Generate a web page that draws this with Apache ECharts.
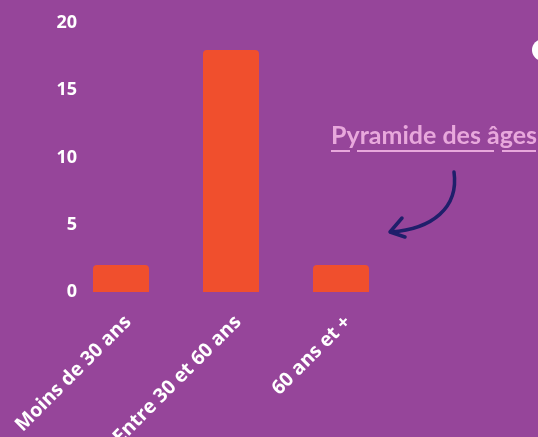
<!DOCTYPE html>
<html>
<head>
<meta charset="utf-8">
<script src="https://cdn.jsdelivr.net/npm/echarts@6/dist/echarts.min.js"></script>
<style>
  html, body { margin: 0; padding: 0; background: #96459a; }
  #chart { width: 538px; height: 437px; }
</style>
</head>
<body>
<div id="chart"></div>
<script>
// age groups and headcount
const categories = ['Moins de 30 ans', 'Entre 30 et 60 ans', '60 ans et +']
const counts = [2, 18, 2]
const yTicks = [0, 5, 10, 15, 20]
const title = 'Pyramide des âges'

const chart = echarts.init(document.getElementById('chart'))

// underline pieces, broken under the descenders like the original
const underline = [[331, 350], [357, 494], [502, 536]].map(([a, b]) => ({
  type: 'line',
  shape: { x1: a, y1: 151, x2: b, y2: 151 },
  style: { stroke: '#e8a8dc', lineWidth: 2 }
}))

const option = {
  backgroundColor: '#96459a',
  animation: false,
  grid: {
    left: 66,
    right: 142,
    top: 23,
    bottom: 145,
    containLabel: false,
    outerBoundsMode: 'none'
  },
  xAxis: {
    type: 'category',
    data: categories,
    axisLine: { show: false },
    axisTick: { show: false },
    axisLabel: {
      rotate: 45,
      margin: 20,
      verticalAlign: 'top',
      interval: 0,
      color: '#ffffff',
      fontFamily: 'Open Sans',
      fontWeight: 'bold',
      fontSize: 19.5
    }
  },
  yAxis: {
    type: 'value',
    min: yTicks[0],
    max: yTicks[yTicks.length - 1],
    interval: 5,
    splitLine: { show: false },
    axisLine: { show: false },
    axisTick: { show: false },
    axisLabel: {
      margin: -11,
      color: '#ffffff',
      fontFamily: 'Open Sans',
      fontWeight: 'bold',
      fontSize: 18
    }
  },
  series: [{
    type: 'bar',
    data: counts,
    barWidth: 56,
    itemStyle: {
      color: '#f04f2d',
      borderRadius: [4, 4, 0, 0]
    }
  }],
  graphic: [
    {
      type: 'text',
      left: 331,
      top: 123,
      style: {
        text: title,
        fill: '#e8a8dc',
        fontFamily: 'Lato',
        fontWeight: 'bold',
        fontSize: 25
      }
    },
    ...underline,
    {
      type: 'bezierCurve',
      shape: { x1: 454, y1: 172, cpx1: 459, cpy1: 208, cpx2: 432, cpy2: 229, x2: 391, y2: 232 },
      style: { stroke: '#1f1f6b', lineWidth: 3.5, fill: null, lineCap: 'round' }
    },
    {
      type: 'polyline',
      shape: { points: [[402, 218], [390, 232], [405, 237]] },
      style: { stroke: '#1f1f6b', lineWidth: 3.5, fill: null, lineCap: 'round', lineJoin: 'round' }
    },
    {
      type: 'circle',
      shape: { cx: 543, cy: 50, r: 11 },
      style: { fill: '#ffffff' }
    }
  ]
}

chart.setOption(option)
window.addEventListener('resize', () => chart.resize())
</script>
</body>
</html>
